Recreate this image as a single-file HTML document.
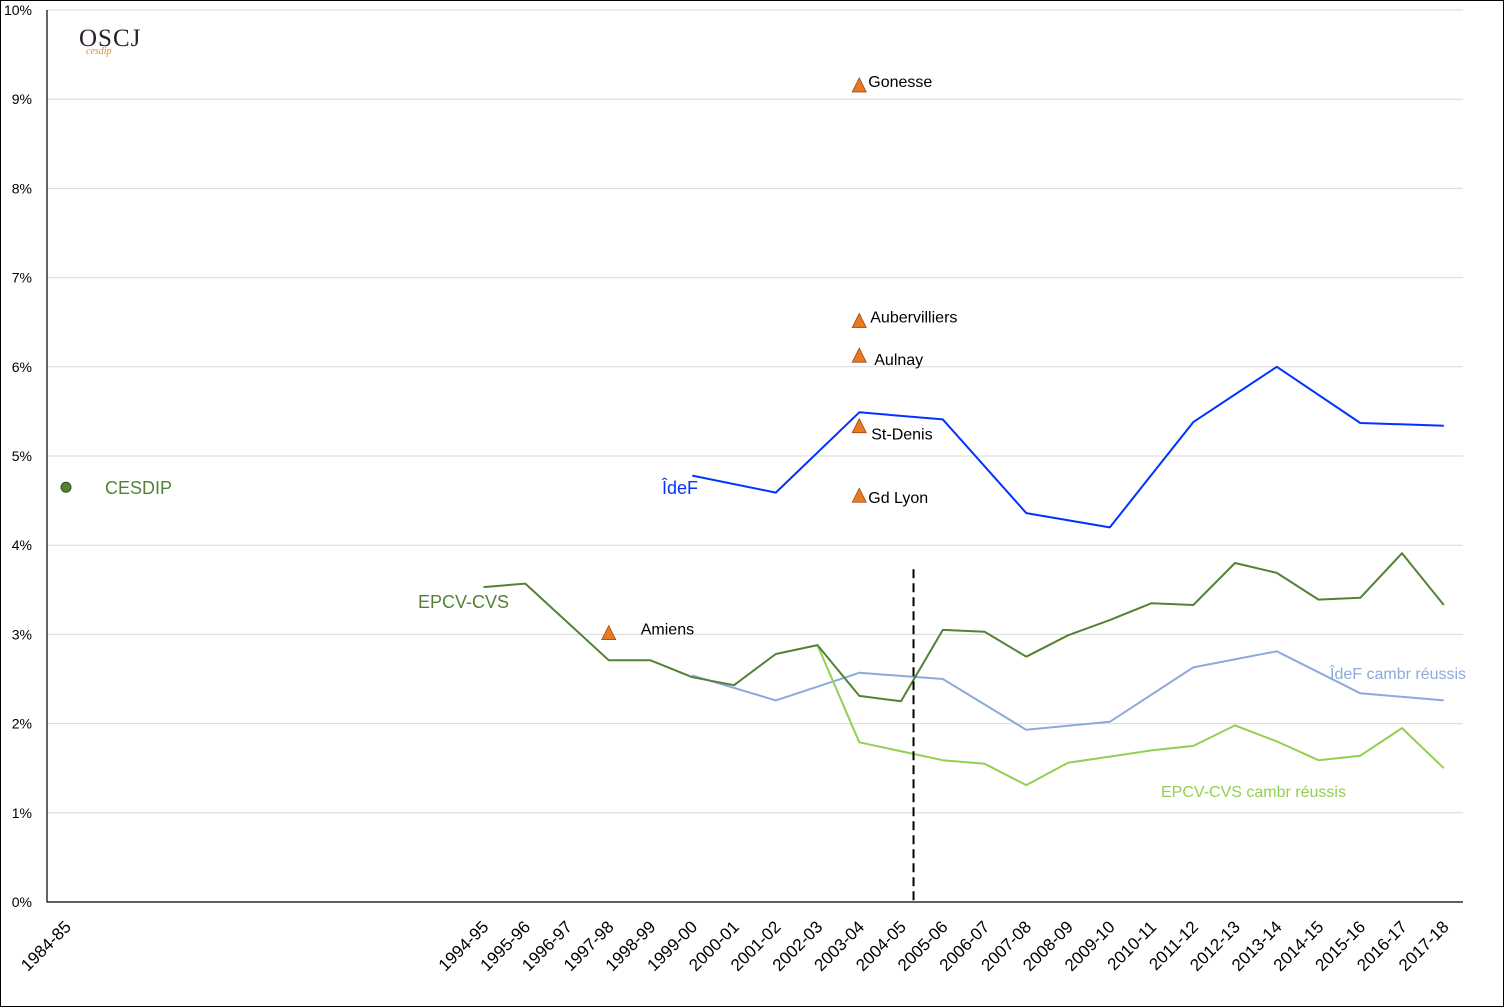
<!DOCTYPE html>
<html><head><meta charset="utf-8"><style>
body{margin:0;background:#fff}
svg{display:block;font-family:"Liberation Sans","DejaVu Sans",sans-serif}
</style></head><body>
<svg id="c" width="1504" height="1008">
<rect x="0.5" y="0.5" width="1503" height="1006" fill="#fff" stroke="#000"/>
<g>
<text x="79" y="46" font-family="Liberation Serif,serif" font-size="25" fill="#2a1f2b" letter-spacing="1">OSCJ</text>
<text x="86" y="54" font-family="Liberation Serif,serif" font-style="italic" font-size="10" fill="#e8892a">cesdip</text>
</g>
</svg>
<script>
const cats=["1984-85","1994-95","1995-96","1996-97","1997-98","1998-99","1999-00","2000-01","2001-02","2002-03","2003-04","2004-05","2005-06","2006-07","2007-08","2008-09","2009-10","2010-11","2011-12","2012-13","2013-14","2014-15","2015-16","2016-17","2017-18"];
const catYears=[1984,1994,1995,1996,1997,1998,1999,2000,2001,2002,2003,2004,2005,2006,2007,2008,2009,2010,2011,2012,2013,2014,2015,2016,2017];
const yTicks=[0,1,2,3,4,5,6,7,8,9,10];
const ideF=[null,null,null,null,null,null,4.78,null,4.59,null,5.49,null,5.41,null,4.36,null,4.20,null,5.38,null,6.0,null,5.37,null,5.34];
const epcv=[null,3.53,3.57,null,2.71,2.71,2.52,2.43,2.78,2.88,2.31,2.25,3.05,3.03,2.75,2.99,3.16,3.35,3.33,3.80,3.69,3.39,3.41,3.91,3.33];
const ideFCambr=[null,null,null,null,null,null,2.54,null,2.26,null,2.57,null,2.50,null,1.93,null,2.02,null,2.63,null,2.81,null,2.34,null,2.26];
const epcvCambr=[null,null,null,null,null,null,null,null,null,2.88,1.79,null,1.59,1.55,1.31,1.56,1.63,1.70,1.75,1.98,1.80,1.59,1.64,1.95,1.50];
const triNames=["Gonesse","Aubervilliers","Aulnay","St-Denis","Gd Lyon","Amiens"];
const triCats=["2003-04","2003-04","2003-04","2003-04","2003-04","1997-98"];
const triVals=[9.16,6.52,6.13,5.34,4.56,3.02];
const cesdipVal=4.65;
const dashYear=2004.3, dashTop=3.73;

const NS="http://www.w3.org/2000/svg";
const svg=document.getElementById('c');
const X0=47,X1=1463;
function xYear(yr){return 66+(yr-1984)*41.75;}
function xCat(c){return xYear(catYears[cats.indexOf(c)]);}
function yV(v){return 902-v*89.2;}
function el(t,a,p){const e=document.createElementNS(NS,t);for(const k in a)e.setAttribute(k,a[k]);(p||svg).appendChild(e);return e;}

const grid=el('g',{});


yTicks.forEach(t=>{
  if(t>0){const l=el('line',{x1:X0,x2:X1,y1:yV(t),y2:yV(t),stroke:'#d9d9d9','stroke-width':1},grid);
  
  }
  const tx=el('text',{x:32,y:yV(t)+5,'text-anchor':'end','font-size':14,fill:'#000'});
  tx.textContent=t+'%';
  
  
});
const ax=el('path',{d:`M${X0},10 V902 H${X1}`,fill:'none',stroke:'#000','stroke-width':1.2});


cats.forEach(c=>{
  const x=xCat(c)+6,y=928;
  const t=el('text',{x:x,y:y,'text-anchor':'end','font-size':17,fill:'#000',transform:`rotate(-45 ${x} ${y})`});
  t.textContent=c;
  
  
});
function series(vals,color,w,name){
  let d='';vals.forEach((v,i)=>{if(v!=null){d+=(d?'L':'M')+xYear(catYears[i]).toFixed(1)+','+yV(v).toFixed(1);}});
  const p=el('path',{d:d,fill:'none',stroke:color,'stroke-width':w,'stroke-linejoin':'round'});
  
  
}
series(ideFCambr,'#8eaadb',2,'idef-cambr-line');
series(epcvCambr,'#92d050',2,'epcv-cambr-line');
series(epcv,'#548235',2,'epcv-line');
series(ideF,'#0033ff',2,'idef-line');
const dl=el('line',{x1:xYear(dashYear),x2:xYear(dashYear),y1:yV(dashTop),y2:902,stroke:'#000','stroke-width':2,'stroke-dasharray':'9,5'});


const cd=el('circle',{cx:xYear(1984),cy:yV(cesdipVal),r:5,fill:'#548235',stroke:'#2f4f1f'});


const labOff=[[9,2],[11,2],[15,10],[12,14],[9,8],[32,2]];
triNames.forEach((n,i)=>{
  const x=xCat(triCats[i]),y=yV(triVals[i]);
  const p=el('path',{d:`M${x-7},${y+7}L${x},${y-7}L${x+7},${y+7}Z`,fill:'#e87b22',stroke:'#a0461a','stroke-width':0.8});
  
  
  const t=el('text',{x:x+labOff[i][0],y:y+labOff[i][1],'font-size':16,fill:'#000'});
  t.textContent=n;
  
  
});
function lab(txt,x,y,col,name,size){const t=el('text',{x:x,y:y,'font-size':size||18,fill:col});t.textContent=txt;
  
  }
lab('CESDIP',105,494,'#548235','cesdip-label');
lab('ÎdeF',662,494,'#0033ff','idef-label');
lab('EPCV-CVS',418,608,'#548235','epcv-label');
lab('ÎdeF cambr réussis',1330,679,'#8eaadb','idef-cambr-label',16);
lab('EPCV-CVS cambr réussis',1161,797,'#92d050','epcv-cambr-label',16);
</script>
</body></html>
